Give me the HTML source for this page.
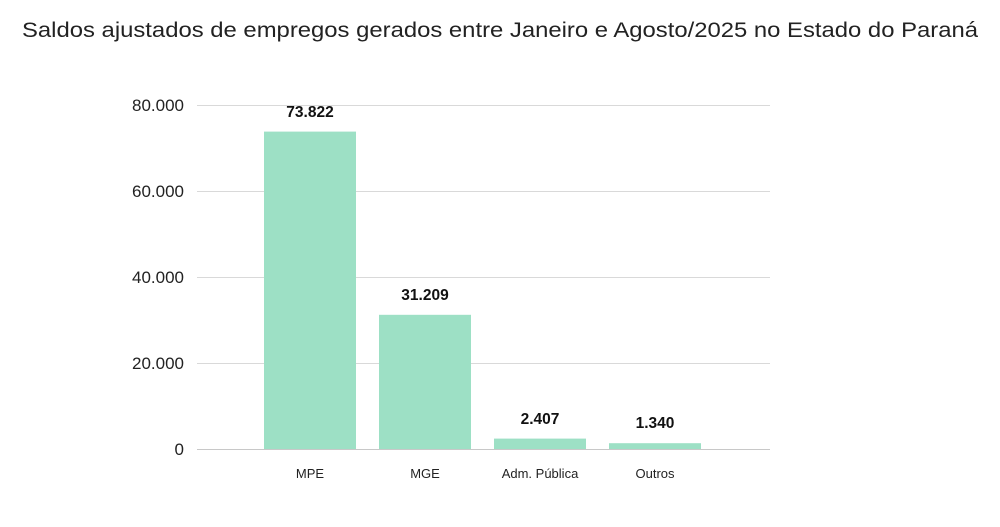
<!DOCTYPE html>
<html><head><meta charset="utf-8"><style>
body{margin:0;background:#fff;width:1000px;height:522px;overflow:hidden;font-family:"Liberation Sans","DejaVu Sans",sans-serif}
</style></head><body>
<svg width="1000" height="522" xmlns="http://www.w3.org/2000/svg" font-family="Liberation Sans, DejaVu Sans, sans-serif">
<text x="22" y="37" font-size="21" fill="#222" textLength="956" lengthAdjust="spacingAndGlyphs">Saldos ajustados de empregos gerados entre Janeiro e Agosto/2025 no Estado do Paraná</text>
<g stroke="#d9d9d9" stroke-width="1">
<line x1="197" y1="105.5" x2="770" y2="105.5"/>
<line x1="197" y1="191.5" x2="770" y2="191.5"/>
<line x1="197" y1="277.5" x2="770" y2="277.5"/>
<line x1="197" y1="363.5" x2="770" y2="363.5"/>
<line x1="197" y1="449.5" x2="770" y2="449.5" stroke="#c8c8c8"/>
</g>
<g font-size="17" fill="#222" text-anchor="end">
<text x="184" y="111">80.000</text>
<text x="184" y="197">60.000</text>
<text x="184" y="283">40.000</text>
<text x="184" y="369">20.000</text>
<text x="184" y="455">0</text>
</g>
<g fill="#9de0c5">
<rect x="264" y="131.6" width="92" height="317.4"/>
<rect x="379" y="314.8" width="92" height="134.2"/>
<rect x="494" y="438.6" width="92" height="10.4"/>
<rect x="609" y="443.2" width="92" height="5.8"/>
</g>
<g font-size="15.5" font-weight="bold" fill="#111" text-anchor="middle">
<text x="310" y="117">73.822</text>
<text x="425" y="300">31.209</text>
<text x="540" y="424">2.407</text>
<text x="655" y="428">1.340</text>
</g>
<g font-size="13" fill="#222" text-anchor="middle">
<text x="310" y="478">MPE</text>
<text x="425" y="478">MGE</text>
<text x="540" y="478">Adm. Pública</text>
<text x="655" y="478">Outros</text>
</g>
</svg>
</body></html>
